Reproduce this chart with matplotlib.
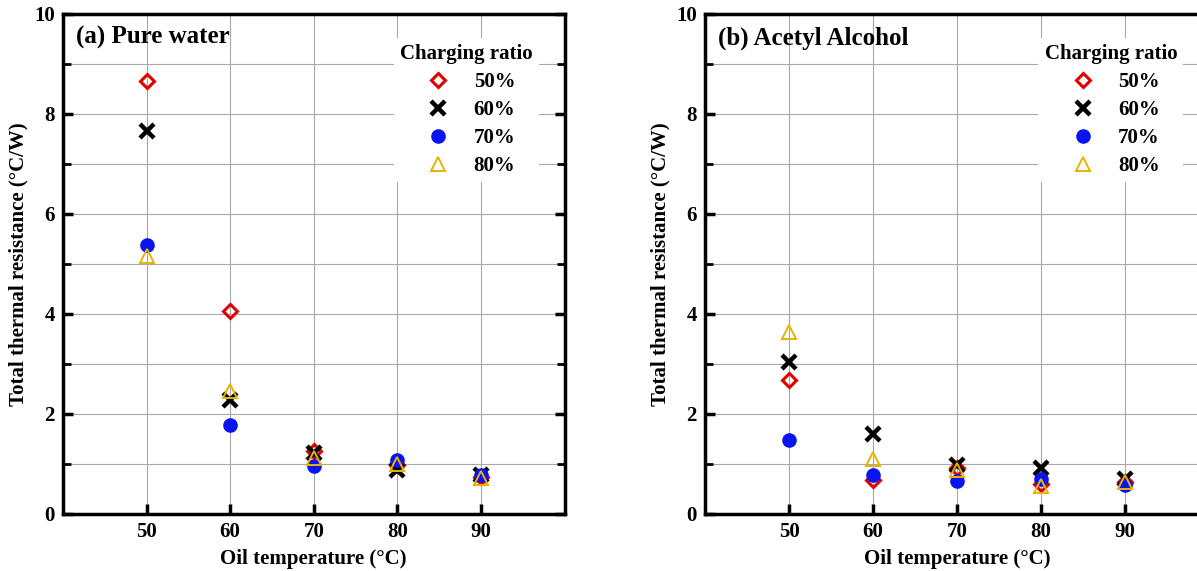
import matplotlib.pyplot as plt
from matplotlib.ticker import MultipleLocator

plt.rcParams['font.family'] = ['Liberation Serif', 'DejaVu Serif']
plt.rcParams['font.weight'] = 'bold'

temps = [50, 60, 70, 80, 90]
ratios = ['50%', '60%', '70%', '80%']

# pure water
water_50 = [8.65, 4.05, 1.25, 0.97, 0.74]
water_60 = [7.65, 2.27, 1.21, 0.88, 0.78]
water_70 = [5.38, 1.78, 0.96, 1.07, 0.78]
water_80 = [5.15, 2.46, 1.12, 1.00, 0.71]

# acetyl alcohol
acetyl_50 = [2.68, 0.68, 0.92, 0.60, 0.63]
acetyl_60 = [3.04, 1.60, 0.97, 0.91, 0.70]
acetyl_70 = [1.48, 0.78, 0.66, 0.69, 0.57]
acetyl_80 = [3.63, 1.10, 0.88, 0.55, 0.63]

styles = [
    dict(marker='D', ms=7.5, mfc='none', mec='#e00000', mew=2.2),
    dict(marker='x', ms=10, mec='black', mew=3.2),
    dict(marker='o', ms=9.5, mfc='#0a14f0', mec='#0a14f0'),
    dict(marker='^', ms=9.5, mfc='none', mec='#e6b400', mew=1.4),
]

fig = plt.figure(figsize=(11.97, 5.71), dpi=100)
ax1 = fig.add_axes([0.0526, 0.1, 0.419, 0.876])
ax2 = fig.add_axes([0.589, 0.1, 0.421, 0.876])


def panel(ax, series, title):
    for vals, lab, st in zip(series, ratios, styles):
        ax.plot(temps, vals, ls='none', label=lab, **st)
    ax.set_xlim(40, 100)
    ax.set_ylim(0, 10)
    ax.set_xticks(temps)
    ax.yaxis.set_major_locator(MultipleLocator(2))
    ax.yaxis.set_minor_locator(MultipleLocator(1))
    ax.grid(True, which='major', axis='x', color='#a8a8a8', lw=0.8)
    ax.grid(True, which='both', axis='y', color='#a8a8a8', lw=0.8)
    ax.set_axisbelow(True)
    for s in ax.spines.values():
        s.set_linewidth(2.5)
    ax.tick_params(which='major', direction='in', length=7, width=2.5,
                   labelsize=15, right=True, pad=6)
    ax.tick_params(which='minor', direction='in', length=6, width=2,
                   right=True)
    ax.set_xlabel('Oil temperature (°C)', fontsize=15, fontweight='bold',
                  labelpad=5)
    ax.set_ylabel('Total thermal resistance (°C/W)', fontsize=15,
                  fontweight='bold')
    ax.text(0.025, 0.975, title, transform=ax.transAxes, fontsize=18,
            fontweight='bold', va='top', ha='left')
    leg = ax.legend(title='Charging ratio', loc='upper right',
                    bbox_to_anchor=(0.97, 0.972), fontsize=15,
                    title_fontproperties={'weight': 'bold', 'size': 15},
                    handletextpad=0.7, labelspacing=0.38, borderpad=0.3,
                    fancybox=False, framealpha=1, edgecolor='white')
    leg.get_frame().set_linewidth(0)


panel(ax1, [water_50, water_60, water_70, water_80], '(a) Pure water')
panel(ax2, [acetyl_50, acetyl_60, acetyl_70, acetyl_80], '(b) Acetyl Alcohol')

fig.savefig('out.png', dpi=100)
